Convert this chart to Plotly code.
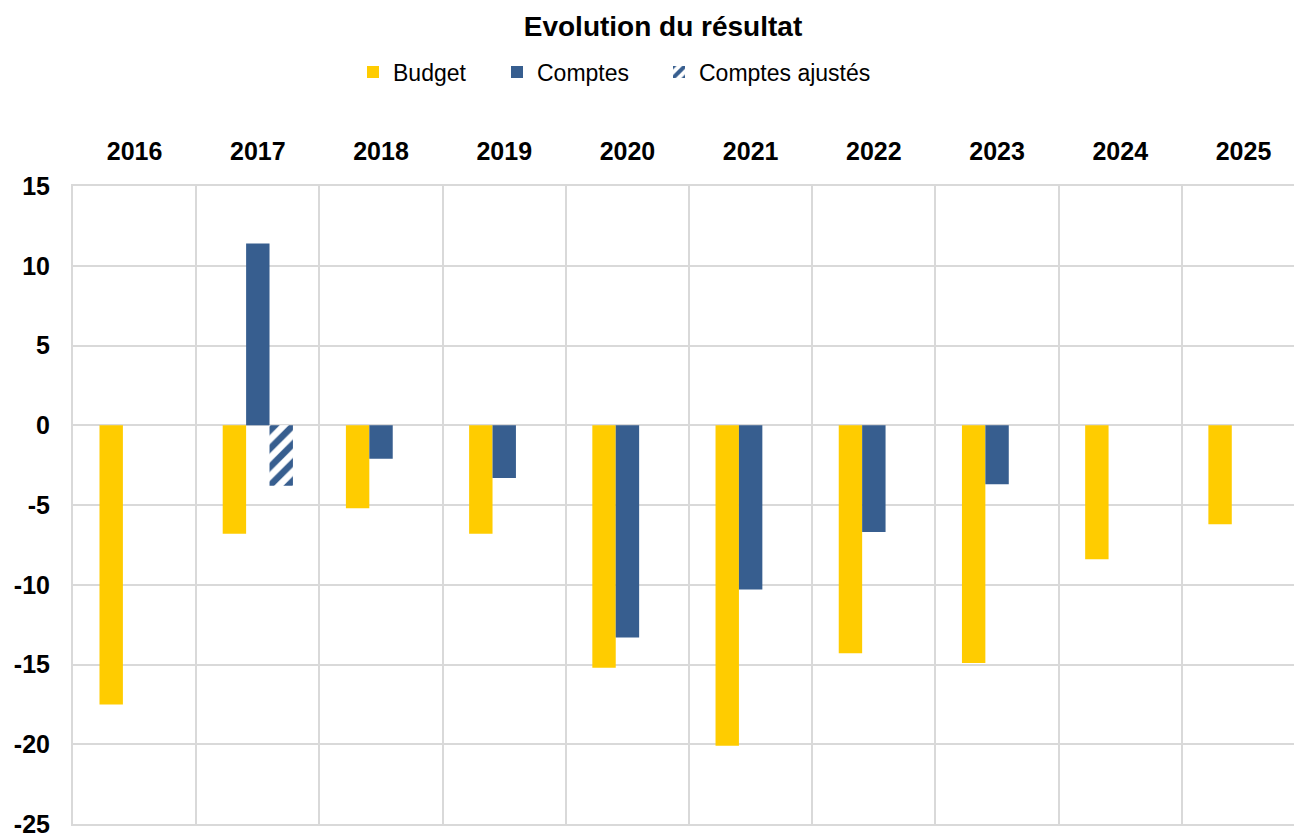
import plotly.graph_objects as go

# Données
annees = ['2016', '2017', '2018', '2019', '2020', '2021', '2022', '2023', '2024', '2025']
budget = [-17.5, -6.8, -5.2, -6.8, -15.2, -20.1, -14.3, -14.9, -8.4, -6.2]
comptes = [None, 11.4, -2.1, -3.3, -13.3, -10.3, -6.7, -3.7, None, None]
comptes_ajustes = [None, -3.8, None, None, None, None, None, None, None, None]
graduations = [15, 10, 5, 0, -5, -10, -15, -20, -25]

JAUNE = '#FFCC00'
BLEU = '#375E8F'
GRILLE = '#D9D9D9'
FONT = 'Liberation Sans, Arial, sans-serif'

W, H = 1294, 834

x = list(range(len(annees)))

fig = go.Figure()

fig.add_trace(go.Bar(x=x, y=budget, name='Budget', marker_color=JAUNE,
                     marker_line_width=0, legend='legend'))
fig.add_trace(go.Bar(x=x, y=comptes, name='Comptes', marker_color=BLEU,
                     marker_line_width=0, legend='legend2'))
fig.add_trace(go.Bar(
    x=x, y=comptes_ajustes, name='Comptes ajustés', legend='legend3',
    marker=dict(color='white', line_width=0,
                pattern=dict(shape='/', fgcolor=BLEU, bgcolor='white',
                             fgopacity=1, size=13, solidity=0.5))
))


def legende(x_px):
    return dict(
        orientation='h',
        xref='container', yref='container',
        x=x_px / W, xanchor='left',
        y=1 - 72 / H, yanchor='middle',
        font=dict(size=23, family=FONT, color='black'),
        bgcolor='rgba(0,0,0,0)',
    )


fig.update_layout(
    width=W, height=H,
    autosize=False,
    margin=dict(l=73, r=0, t=186, b=10),
    paper_bgcolor='white',
    plot_bgcolor='white',
    font=dict(family=FONT, color='black'),
    barmode='group',
    bargap=0.43,
    bargroupgap=0,
    title=dict(
        text='<b>Evolution du résultat</b>',
        font=dict(size=28, family=FONT, color='black'),
        x=663 / W, xanchor='center',
        y=1 - 26 / H, yanchor='middle', yref='container',
    ),
    legend=legende(353),
    legend2=legende(497),
    legend3=legende(659),
    showlegend=True,
)

fig.update_xaxes(
    side='top',
    range=[-0.5, 9.41],
    tickmode='array', tickvals=x, ticktext=[f'<b>{a}</b>' for a in annees],
    tickfont=dict(size=25, family=FONT, color='black'),
    ticks='outside', ticklen=14, tickcolor='rgba(0,0,0,0)',
    showgrid=False, zeroline=False,
    showline=True, mirror=True, linecolor=GRILLE, linewidth=2,
    minor=dict(tick0=0.5, dtick=1, showgrid=True, gridcolor=GRILLE, gridwidth=2, ticks=''),
    automargin=False,
    fixedrange=True,
)

fig.update_yaxes(
    range=[-25, 15],
    tickmode='array', tickvals=graduations,
    ticktext=[f'<b>{v}</b>' for v in graduations],
    tickfont=dict(size=25, family=FONT, color='black'),
    ticks='outside', ticklen=16, tickcolor='rgba(0,0,0,0)',
    ticklabeloverflow='allow',
    showgrid=True, gridcolor=GRILLE, gridwidth=2,
    zeroline=False,
    showline=True, linecolor=GRILLE, linewidth=2,
    automargin=False,
    fixedrange=True,
)

# supprime la marge par défaut de la page pour que la figure remplisse la fenêtre
fig.write_html('out.html',
               config={'displayModeBar': False},
               post_script="document.body.style.margin='0';document.body.style.overflow='hidden';")
